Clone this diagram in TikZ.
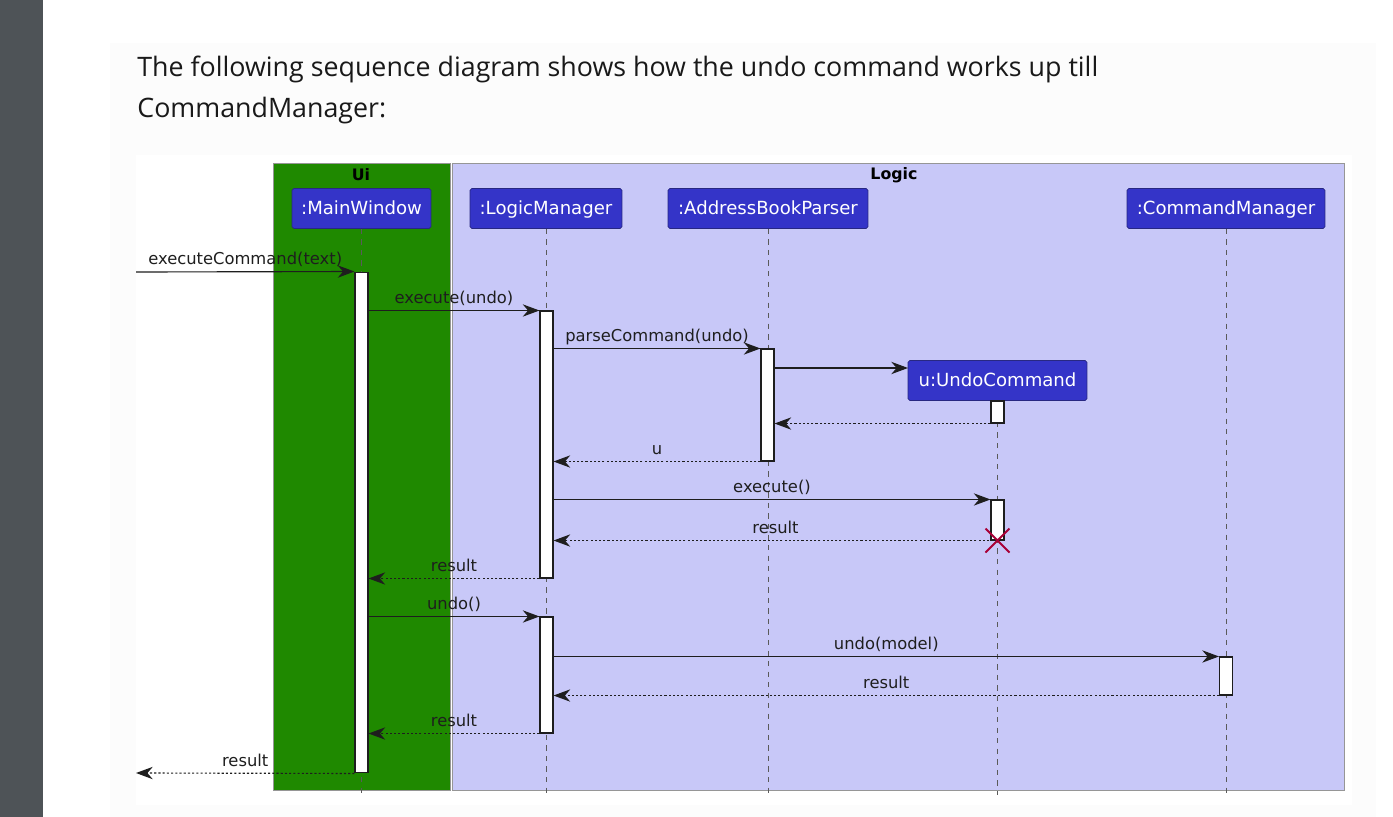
\documentclass[tikz,border=0pt]{standalone}
\usepackage{fontspec}
\setmainfont{Open Sans}
\newfontfamily\umlfont{DejaVu Sans}
\usetikzlibrary{arrows.meta}

\definecolor{sidegray}{RGB}{78,83,87}
\definecolor{panelgray}{RGB}{252,252,252}
\definecolor{uigreen}{RGB}{31,137,0}
\definecolor{logicblue}{RGB}{200,200,248}
\definecolor{framegray}{RGB}{150,150,150}
\definecolor{boxblue}{RGB}{52,52,200}
\definecolor{boxborder}{RGB}{40,40,130}
\definecolor{linegray}{RGB}{90,90,90}
\definecolor{arrowblack}{RGB}{30,30,30}
\definecolor{destroyred}{RGB}{168,0,54}

\begin{document}
\begin{tikzpicture}[x=0.02cm, y=-0.02cm,
    box/.style={draw=boxborder, fill=boxblue, text=white, rounded corners=1pt,
      minimum height=0.8cm, inner sep=0pt, text height=0.8em, text depth=0.07em,
      font=\umlfont\fontsize{10.3}{12}\selectfont},
    act/.style={draw=arrowblack, fill=white, minimum width=0.26cm, inner sep=0pt, line width=0.6pt},
    life/.style={draw=linegray, dash pattern=on 3pt off 3pt, line width=0.5pt},
    msg/.style={draw=arrowblack, line width=0.65pt, -{Stealth[length=9.5pt, width=7pt, inset=3pt]}},
    ret/.style={msg, dash pattern=on 1.2pt off 1.2pt},
    lbl/.style={font=\umlfont\fontsize{9.3}{11}\selectfont, text=arrowblack, inner sep=0pt, anchor=base, yshift=4pt},
    grp/.style={font=\umlfont\bfseries\fontsize{9}{11}\selectfont, inner sep=0pt}
  ]
  \useasboundingbox (0,0) rectangle (1393,817);

  % Draw the page
  \fill[white] (0,0) rectangle (1393,817);
  \fill[sidegray] (0,0) rectangle (43,817);
  \fill[panelgray] (110,43) rectangle (1376,817);
  \fill[white] (136,155) rectangle (1352,805);

  \node[anchor=base west, inner sep=0pt, font=\fontsize{15.25}{20}\selectfont, text=black!90] (line1) at (137,77)
    {The following sequence diagram shows how the undo command works up till};
  \node[anchor=base west, inner sep=0pt, font=\fontsize{15.25}{20}\selectfont, text=black!90] (line2) at (137,118)
    {CommandManager:};

  % Draw the groups
  \draw[framegray, fill=uigreen] (273,163) rectangle (450,790);
  \draw[framegray, fill=logicblue] (452,163) rectangle (1344,790);
  \node[grp] (ui) at (361,175) {Ui};
  \node[grp] (logic) at (894,175) {Logic};

  % Participants
  \node[box, minimum width=2.78cm] (mw) at (361.5,208.5) {:MainWindow};
  \node[box, minimum width=3.04cm] (lm) at (546,208.5) {:LogicManager};
  \node[box, minimum width=4.0cm] (abp) at (768,208.5) {:AddressBookParser};
  \node[box, minimum width=3.58cm] (uc) at (997.5,380.5) {u:UndoCommand};
  \node[box, minimum width=3.96cm] (cm) at (1226,208.5) {:CommandManager};

  % Lifelines
  \coordinate (bottom) at (0,795);
  \draw[life] (mw.south) -- (mw.south |- bottom);
  \draw[life] (lm.south) -- (lm.south |- bottom);
  \draw[life] (abp.south) -- (abp.south |- bottom);
  \draw[life] (uc.south) -- (uc.south |- bottom);
  \draw[life] (cm.south) -- (cm.south |- bottom);

  % Activations
  \node[act, minimum height=10.02cm] (mwA) at (361.5,522.5) {};
  \node[act, minimum height=5.34cm] (lmA1) at (546.5,444.5) {};
  \node[act, minimum height=2.24cm] (abpA) at (767.5,405) {};
  \node[act, minimum height=0.44cm] (ucA1) at (997.5,412) {};
  \node[act, minimum height=0.8cm] (ucA2) at (997.5,520) {};
  \node[act, minimum height=2.32cm] (lmA2) at (546.5,675) {};
  \node[act, minimum height=0.76cm] (cmA) at (1226,676) {};

  % Messages
  \coordinate (inL) at (136,272);
  \coordinate (outL) at (136,773);
  \coordinate (ucIn) at (908,368);
  \draw[msg] (inL) -- node[lbl] (l1) {executeCommand(text)} (mwA.north west);
  \draw[msg] (mwA.east |- lmA1.north) -- node[lbl] (l2) {execute(undo)} (lmA1.north west);
  \draw[msg] (lmA1.east |- abpA.north) -- node[lbl] (l3) {parseCommand(undo)} (abpA.north west);
  \draw[msg] (abpA.east |- ucIn) -- (ucIn);
  \draw[ret] (ucA1.south west) -- (abpA.east |- ucA1.south);
  \draw[ret] (abpA.south west) -- node[lbl] (l4) {u} (lmA1.east |- abpA.south);
  \draw[msg] (lmA1.east |- ucA2.north) -- node[lbl] (l5) {execute()} (ucA2.north west);
  \draw[ret] (ucA2.south) -- node[lbl] (l6) {result} (lmA1.east |- ucA2.south);
  \draw[ret] (lmA1.south west) -- node[lbl] (l7) {result} (mwA.east |- lmA1.south);
  \draw[msg] (mwA.east |- lmA2.north) -- node[lbl] (l8) {undo()} (lmA2.north west);
  \draw[msg] (lmA2.east |- cmA.north) -- node[lbl] (l9) {undo(model)} (cmA.north west);
  \draw[ret] (cmA.south west) -- node[lbl] (l10) {result} (lmA2.east |- cmA.south);
  \draw[ret] (lmA2.south west) -- node[lbl] (l11) {result} (mwA.east |- lmA2.south);
  \draw[ret] (mwA.south west) -- node[lbl] (l12) {result} (outL);

  % Destroy mark
  \draw[destroyred, line width=1.1pt] ([shift={(-12,-12)}]ucA2.south) -- ([shift={(12,12)}]ucA2.south)
    ([shift={(-12,12)}]ucA2.south) -- ([shift={(12,-12)}]ucA2.south);
\end{tikzpicture}
\end{document}
